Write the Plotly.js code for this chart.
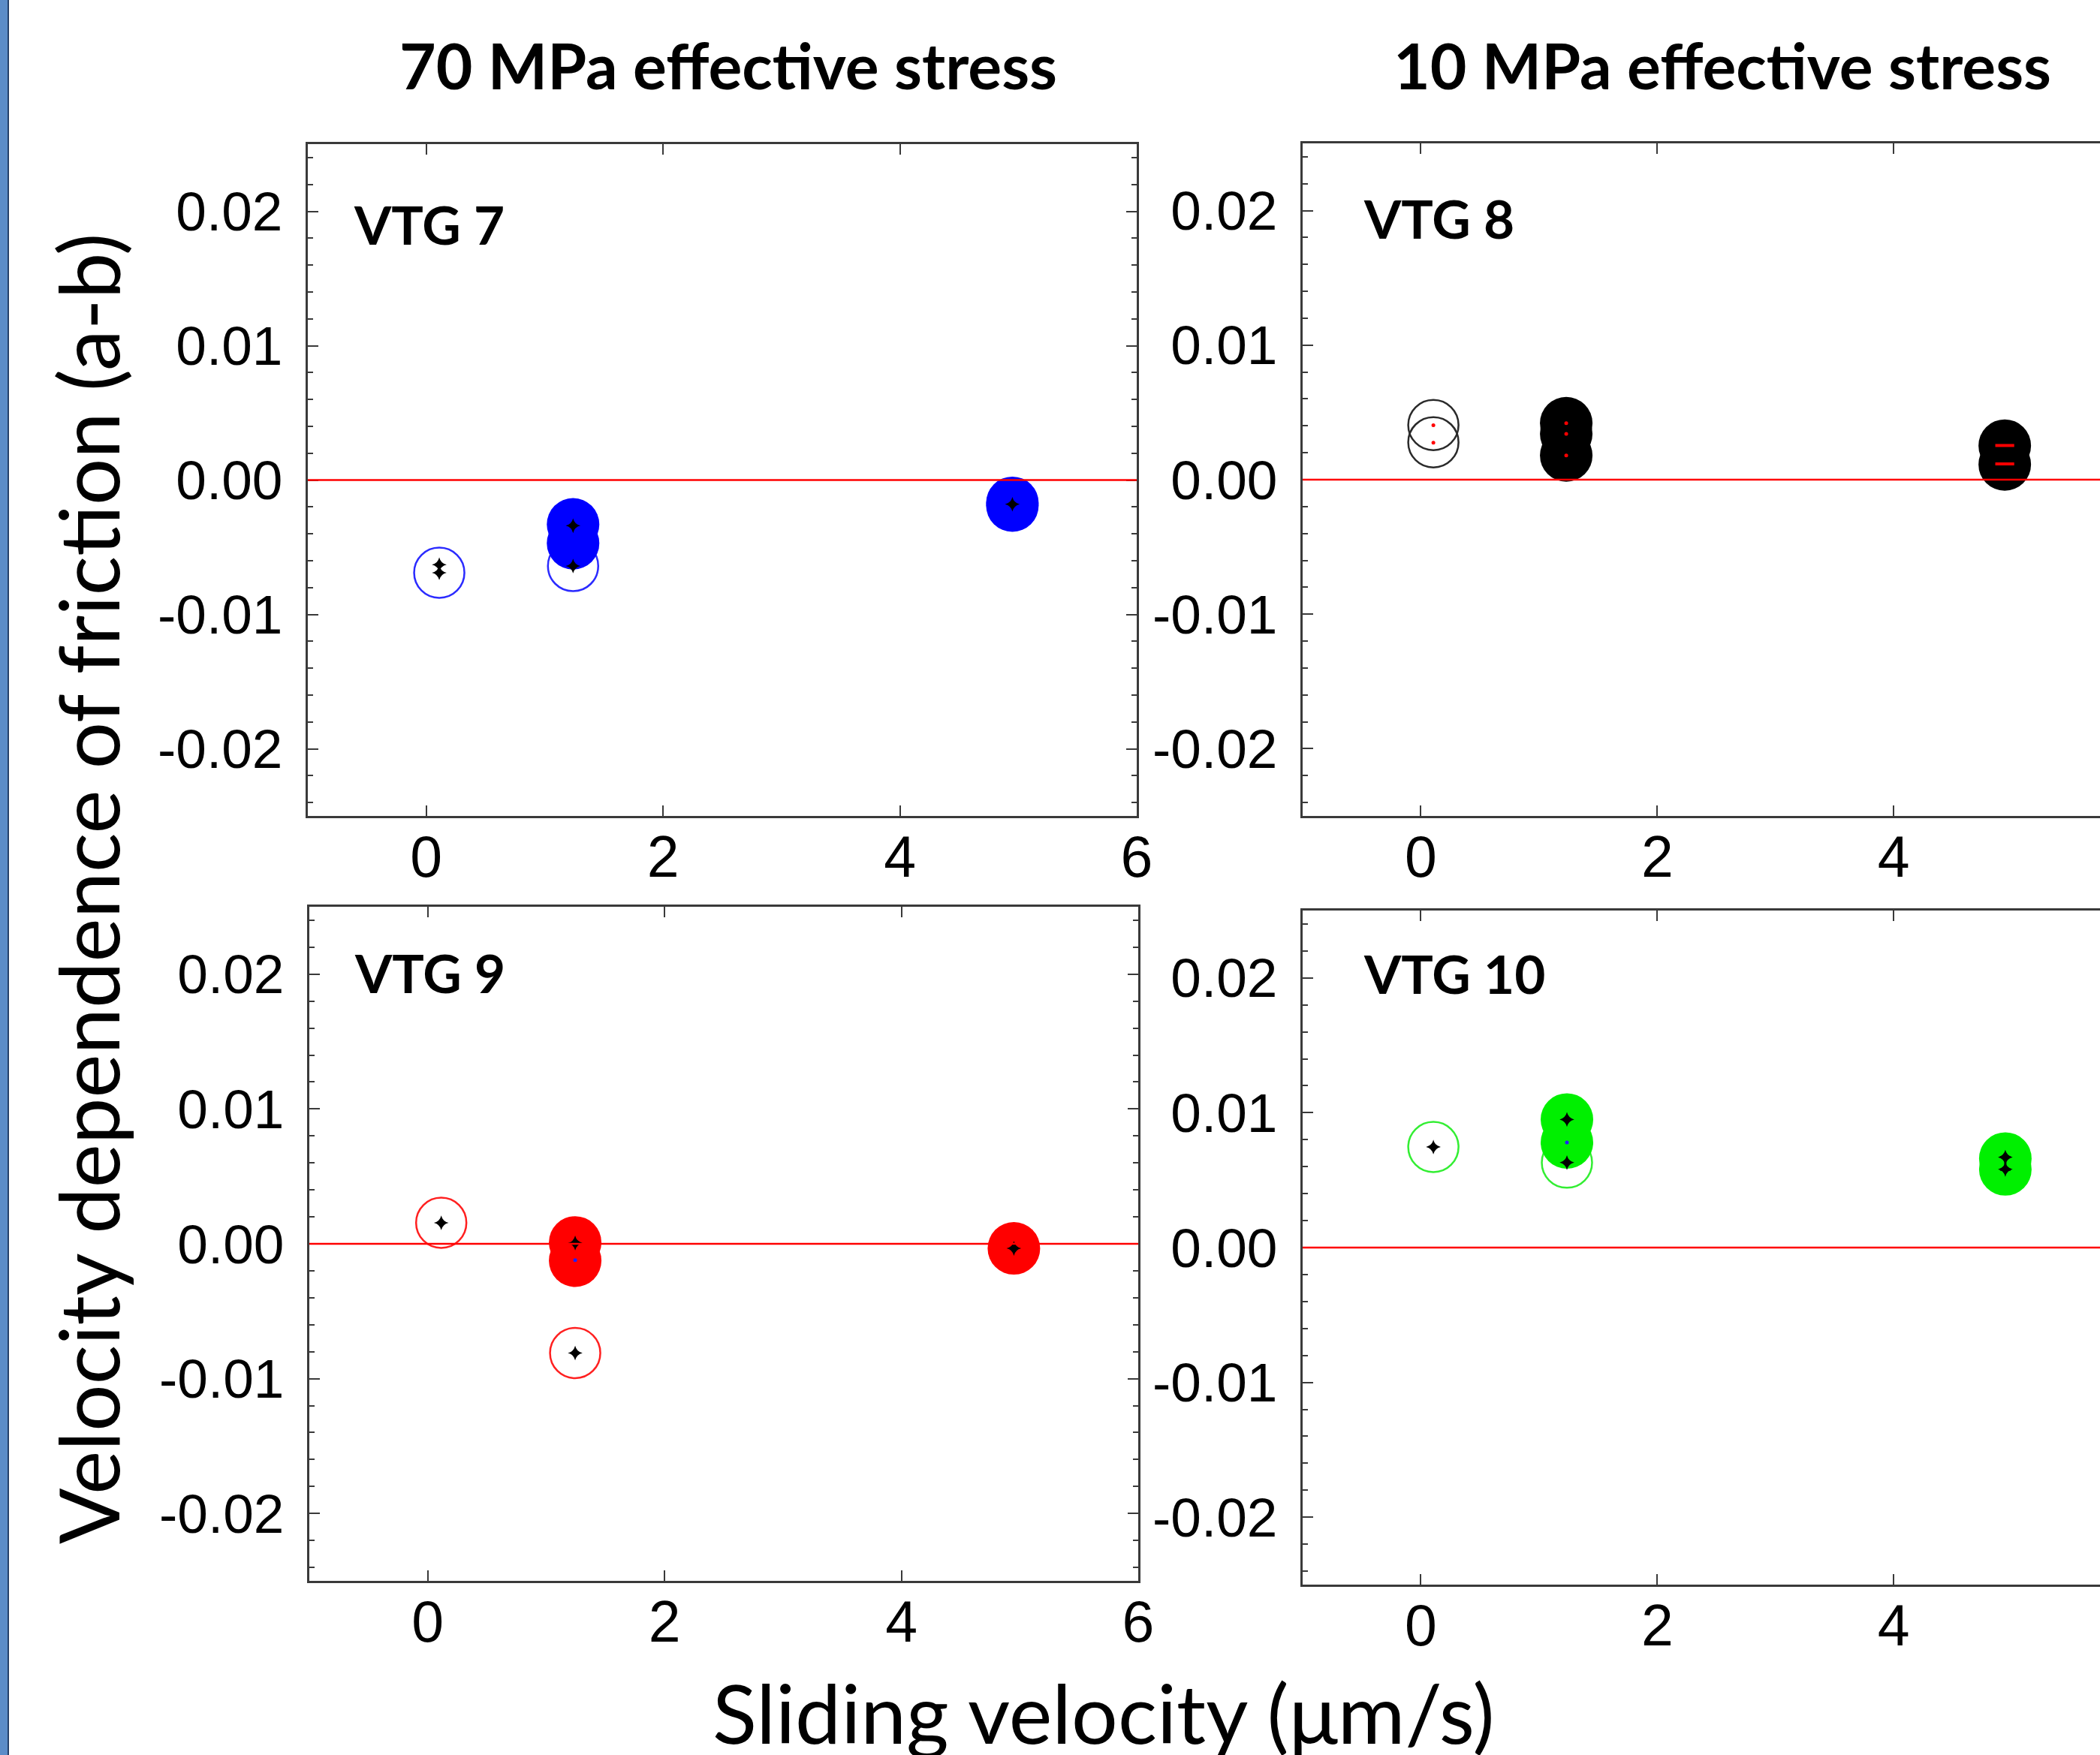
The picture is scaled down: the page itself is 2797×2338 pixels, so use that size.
<!DOCTYPE html>
<html>
<head>
<meta charset="utf-8">
<script src="https://cdn.plot.ly/plotly-3.0.1.min.js"></script>
<style>
html,body{margin:0;padding:0;overflow:hidden;background:#ffffff;width:2797px;height:2338px}
#chart{width:2900px;height:2338px}
</style>
</head>
<body>
<div id="chart"></div>
<script>
// ---------- data ----------
const xTickVals = [0, 2, 4, 6];
const xTickText = ['0', '2', '4', '6'];
const yTickVals = [-0.02, -0.01, 0, 0.01, 0.02];
const yTickText = ['-0.02', '-0.01', '0.00', '0.01', '0.02'];

const columnTitles = ['70 MPa effective stress', '10 MPa effective stress'];
const panelNames = ['VTG 7', 'VTG 8', 'VTG 9', 'VTG 10'];

// VTG 7 (70 MPa, blue)
const vtg7OpenX = [0.11, 1.24];
const vtg7OpenY = [-0.0069, -0.0064];
const vtg7FillX = [1.24, 1.24, 4.95, 4.95];
const vtg7FillY = [-0.0033, -0.0047, -0.0017, -0.0019];
const vtg7StarX = [0.11, 0.11, 1.24, 1.24, 4.95];
const vtg7StarY = [-0.0063, -0.0069, -0.0034, -0.0064, -0.0018];

// VTG 8 (10 MPa, black)
const vtg8OpenX = [0.106, 0.106];
const vtg8OpenY = [0.00406, 0.00278];
const vtg8FillX = [1.23, 1.23, 1.23, 4.94, 4.94];
const vtg8FillY = [0.0042, 0.0034, 0.0018, 0.00253, 0.00113];
const vtg8DotX = [0.106, 0.106, 1.23, 1.23, 1.23];
const vtg8DotY = [0.00405, 0.00275, 0.0042, 0.0034, 0.0018];
const vtg8DashX = [4.94, 4.94];
const vtg8DashY = [0.00254, 0.00117];

// VTG 9 (70 MPa, red)
const vtg9OpenX = [0.114, 1.245];
const vtg9OpenY = [0.00156, -0.0081];
const vtg9FillX = [1.245, 1.245, 4.95];
const vtg9FillY = [0.0001, -0.00125, -0.00034];
const vtg9StarX = [0.114, 1.245, 1.245, 4.95];
const vtg9StarY = [0.00156, 0.00006, -0.0081, -0.00034];
const vtg9DotX = [1.245];
const vtg9DotY = [-0.00121];

// VTG 10 (10 MPa, green)
const vtg10OpenX = [0.106, 1.236];
const vtg10OpenY = [0.00746, 0.0063];
const vtg10FillX = [1.236, 1.236, 4.945, 4.945];
const vtg10FillY = [0.0095, 0.0078, 0.0066, 0.0058];
const vtg10StarX = [0.106, 1.236, 1.236, 4.945, 4.945];
const vtg10StarY = [0.00746, 0.0095, 0.0063, 0.0067, 0.0058];
const vtg10DotX = [1.236];
const vtg10DotY = [0.0078];
const vtg10ErrX = [4.945];
const vtg10ErrY = [0.00624];
const vtg10ErrHalf = [0.00047];

// ---------- layout helpers ----------
const W = 2900, H = 2338;
const px = v => v / W;
const py = v => 1 - v / H;
const frameColor = '#3a3a3a';
const tickFont = {family: 'Liberation Sans, Arial, sans-serif', color: '#000000'};

function xAxis(d0, d1, anchor) {
  return {
    domain: [px(d0), px(d1)], anchor: anchor, range: [-1, 6],
    tickmode: 'array', tickvals: xTickVals, ticktext: xTickText,
    ticks: 'inside', ticklen: 14, tickwidth: 2, tickcolor: frameColor,
    showline: true, linewidth: 3, linecolor: frameColor, mirror: 'ticks',
    showgrid: false, zeroline: false, fixedrange: true,
    tickfont: Object.assign({size: 77}, tickFont), ticklabelstandoff: -14
  };
}
function yAxis(t, b, anchor) {
  return {
    domain: [py(b), py(t)], anchor: anchor, range: [-0.025, 0.025],
    tickmode: 'array', tickvals: yTickVals, ticktext: yTickText,
    ticks: 'inside', ticklen: 14, tickwidth: 2, tickcolor: frameColor,
    minor: {dtick: 0.002, tick0: 0, ticks: 'inside', ticklen: 7, tickwidth: 2, tickcolor: frameColor, showgrid: false},
    showline: true, linewidth: 3, linecolor: frameColor, mirror: 'ticks',
    showgrid: false, zeroline: false, fixedrange: true,
    tickfont: Object.assign({size: 73}, tickFont), ticklabelstandoff: 16
  };
}

function openTrace(x, y, color, xa, ya) {
  return {x: x, y: y, xaxis: xa, yaxis: ya, type: 'scatter', mode: 'markers', hoverinfo: 'skip',
    marker: {symbol: 'circle-open', size: 67, color: color, line: {width: 2.5, color: color}}};
}
function fillTrace(x, y, color, xa, ya) {
  return {x: x, y: y, xaxis: xa, yaxis: ya, type: 'scatter', mode: 'markers', hoverinfo: 'skip',
    marker: {symbol: 'circle', size: 70, color: color, line: {width: 0}}};
}
function starTrace(x, y, xa, ya) {
  return {x: x, y: y, xaxis: xa, yaxis: ya, type: 'scatter', mode: 'markers', hoverinfo: 'skip',
    marker: {symbol: 'star-diamond', size: 14, color: '#000000', line: {width: 0}}};
}
function dotTrace(x, y, color, xa, ya) {
  return {x: x, y: y, xaxis: xa, yaxis: ya, type: 'scatter', mode: 'markers', hoverinfo: 'skip',
    marker: {symbol: 'circle', size: 5, color: color, line: {width: 0}}};
}

const blue = '#0000ff', blueOpen = '#2b2bff';
const black = '#000000', blackOpen = '#2a2a2a';
const red = '#ff0000', redOpen = '#ff2020';
const green = '#00f000', greenOpen = '#33ee33';

const traces = [
  // VTG 7
  openTrace(vtg7OpenX, vtg7OpenY, blueOpen, 'x', 'y'),
  fillTrace(vtg7FillX, vtg7FillY, blue, 'x', 'y'),
  starTrace(vtg7StarX, vtg7StarY, 'x', 'y'),
  // VTG 8
  openTrace(vtg8OpenX, vtg8OpenY, blackOpen, 'x2', 'y2'),
  fillTrace(vtg8FillX, vtg8FillY, black, 'x2', 'y2'),
  dotTrace(vtg8DotX, vtg8DotY, red, 'x2', 'y2'),
  {x: vtg8DashX, y: vtg8DashY, xaxis: 'x2', yaxis: 'y2', type: 'scatter', mode: 'markers', hoverinfo: 'skip',
   marker: {symbol: 'line-ew-open', size: 18, color: red, line: {width: 4, color: red}}},
  // VTG 9
  openTrace(vtg9OpenX, vtg9OpenY, redOpen, 'x3', 'y3'),
  fillTrace(vtg9FillX, vtg9FillY, red, 'x3', 'y3'),
  starTrace(vtg9StarX, vtg9StarY, 'x3', 'y3'),
  dotTrace(vtg9DotX, vtg9DotY, '#2020ff', 'x3', 'y3'),
  // VTG 10
  openTrace(vtg10OpenX, vtg10OpenY, greenOpen, 'x4', 'y4'),
  fillTrace(vtg10FillX, vtg10FillY, green, 'x4', 'y4'),
  starTrace(vtg10StarX, vtg10StarY, 'x4', 'y4'),
  dotTrace(vtg10DotX, vtg10DotY, '#2020ff', 'x4', 'y4'),
  {x: vtg10ErrX, y: vtg10ErrY, xaxis: 'x4', yaxis: 'y4', type: 'scatter', mode: 'markers', hoverinfo: 'skip',
   marker: {size: 1, color: 'rgba(0,0,0,0)'},
   error_y: {type: 'data', array: vtg10ErrHalf, visible: true, color: '#000000', thickness: 3, width: 7}}
];

const zeroLine = (xa, ya) => ({type: 'line', xref: xa + ' domain', yref: ya, x0: 0, x1: 1, y0: 0, y1: 0,
  line: {color: '#ff0000', width: 2.5}, layer: 'above'});

const lato = 'Lato, "Open Sans", sans-serif';
const annotations = [
  {text: columnTitles[0], xref: 'paper', yref: 'paper', x: px(970), y: py(86), xanchor: 'center', yanchor: 'middle',
   showarrow: false, font: {family: lato, size: 84, weight: 700, color: '#000'}},
  {text: columnTitles[1], xref: 'paper', yref: 'paper', x: px(2294), y: py(86), xanchor: 'center', yanchor: 'middle',
   showarrow: false, font: {family: lato, size: 84, weight: 700, color: '#000'}},
  {text: panelNames[0], xref: 'paper', yref: 'paper', x: px(469), y: py(299), xanchor: 'left', yanchor: 'middle',
   showarrow: false, font: {family: lato, size: 71, weight: 700, color: '#000'}},
  {text: panelNames[1], xref: 'paper', yref: 'paper', x: px(1814), y: py(290), xanchor: 'left', yanchor: 'middle',
   showarrow: false, font: {family: lato, size: 71, weight: 700, color: '#000'}},
  {text: panelNames[2], xref: 'paper', yref: 'paper', x: px(470), y: py(1295), xanchor: 'left', yanchor: 'middle',
   showarrow: false, font: {family: lato, size: 71, weight: 700, color: '#000'}},
  {text: panelNames[3], xref: 'paper', yref: 'paper', x: px(1814), y: py(1296), xanchor: 'left', yanchor: 'middle',
   showarrow: false, font: {family: lato, size: 71, weight: 700, color: '#000'}},
  {text: 'Sliding velocity (μm/s)', xref: 'paper', yref: 'paper', x: px(1470), y: py(2280), xanchor: 'center', yanchor: 'middle',
   showarrow: false, font: {family: lato, size: 109, color: '#000'}},
  {text: 'Velocity dependence of friction (a-b)', xref: 'paper', yref: 'paper', x: px(116), y: py(1184), xanchor: 'center', yanchor: 'middle',
   textangle: -90, showarrow: false, font: {family: lato, size: 110, color: '#000'}}
];

const shapes = [
  zeroLine('x', 'y'), zeroLine('x2', 'y2'), zeroLine('x3', 'y3'), zeroLine('x4', 'y4'),
  {type: 'rect', xref: 'paper', yref: 'paper', x0: px(-4), x1: px(11), y0: -0.01, y1: 1.01,
   fillcolor: '#5b8cc8', line: {color: '#24406a', width: 2}, layer: 'above'}
];

const layout = {
  width: W, height: H,
  margin: {l: 0, r: 0, t: 0, b: 0, pad: 0},
  paper_bgcolor: '#ffffff', plot_bgcolor: '#ffffff',
  showlegend: false,
  xaxis: xAxis(410, 1514, 'y'),
  yaxis: yAxis(192, 1087, 'x'),
  xaxis2: xAxis(1735, 2837, 'y2'),
  yaxis2: yAxis(191, 1087, 'x2'),
  xaxis3: xAxis(412, 1516, 'y3'),
  yaxis3: yAxis(1208, 2106, 'x3'),
  xaxis4: xAxis(1735, 2837, 'y4'),
  yaxis4: yAxis(1213, 2111, 'x4'),
  annotations: annotations,
  shapes: shapes
};

Plotly.newPlot('chart', traces, layout, {staticPlot: true, displayModeBar: false});
</script>
</body>
</html>
